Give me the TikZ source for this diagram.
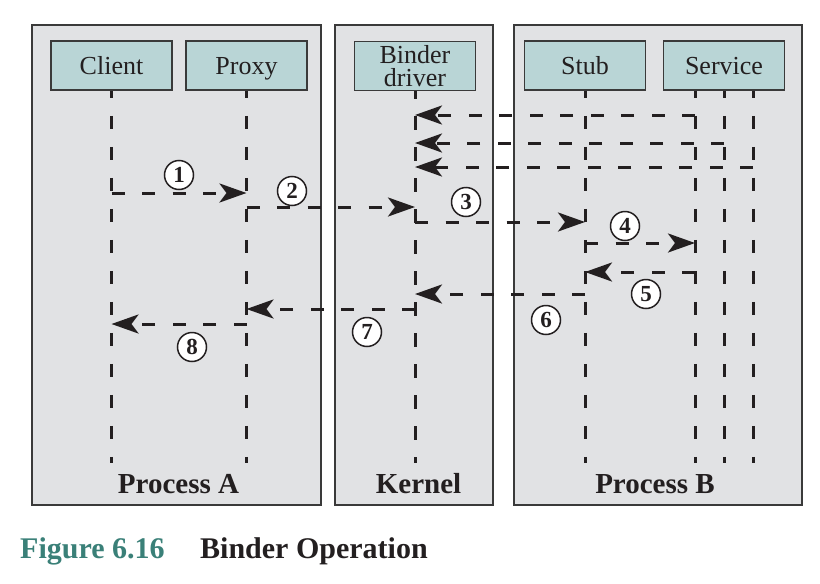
\documentclass[tikz,border=0pt]{standalone}
\usepackage{fontspec}
\setmainfont{Liberation Serif}
\usetikzlibrary{arrows.meta}
\definecolor{panelgray}{HTML}{E1E2E4}
\definecolor{boxteal}{HTML}{B9D5D6}
\definecolor{edgegray}{HTML}{3A3A3A}
\definecolor{inkblack}{HTML}{231F20}
\definecolor{figteal}{HTML}{3A8078}
\tikzset{
	panel/.style={draw=edgegray, fill=panelgray, line width=1.8pt, inner sep=0pt, minimum height=480pt},
	objbox/.style={draw=edgegray, fill=boxteal, line width=1.5pt, minimum width=121pt, minimum height=49pt, inner sep=0pt, font=\fontsize{26}{22}\selectfont, text=inkblack},
	onebox/.style={objbox, text height=18pt, text depth=0pt},
	lifeline/.style={draw=inkblack, line width=3pt, dash pattern=on 13.5pt off 17.5pt, dash phase=6pt},
	msg/.style={draw=inkblack, line width=3pt, dash pattern=on 13pt off 17.5pt, -{Stealth[length=27pt,width=19pt,inset=7pt]}},
	stepnum/.style={circle, draw=inkblack, fill=white, line width=1.5pt, minimum size=29pt, inner sep=0pt, font=\bfseries\fontsize{23}{23}\selectfont, text=inkblack},
	regionname/.style={anchor=base, inner sep=0pt, font=\bfseries\fontsize{29}{30}\selectfont, text=inkblack},
	caption/.style={anchor=base west, inner sep=0pt, font=\bfseries\fontsize{30}{30}\selectfont}
}
\begin{document}
\begin{tikzpicture}[x=1pt,y=-1pt]
	\fill[white] (0,0) rectangle (820,584);
	\useasboundingbox (0,0) rectangle (820,584);
	
	\node[panel, minimum width=289pt] (procA) at (176.5,265) {};
	\node[panel, minimum width=158pt] (kernel) at (414,265) {};
	\node[panel, minimum width=288pt] (procB) at (658,265) {};
	
	\node[onebox] (client) at (111.5,65.5) {Client};
	\node[onebox] (proxy) at (246.5,65.5) {Proxy};
	\node[objbox, align=center] (binder) at (415,66) {Binder\\[1pt]driver};
	\node[onebox] (stub) at (585,65.5) {Stub};
	\node[onebox] (service) at (724,65.5) {Service};
	
	\coordinate (bottom) at (0,463);
	\coordinate (svcA) at ([xshift=-29pt]service.south);
	\coordinate (svcC) at ([xshift=29pt]service.south);
	\foreach \obj in {client.south,proxy.south,binder.south,stub.south,svcA,service.south,svcC}
		\draw[lifeline] (\obj) -- (\obj |- bottom);
	
	\coordinate (ra) at (0,115);
	\coordinate (rb) at (0,143);
	\coordinate (rc) at (0,167);
	\draw[msg] (svcA |- ra) -- (binder |- ra);
	\draw[msg] (service |- rb) -- (binder |- rb);
	\draw[msg] (svcC |- rc) -- (binder |- rc);
	
	\coordinate (r1) at (0,193);
	\coordinate (r2) at (0,207);
	\coordinate (r3) at (0,222);
	\coordinate (r4) at (0,243);
	\coordinate (r5) at (0,272);
	\coordinate (r6) at (0,294);
	\coordinate (r7) at (0,309);
	\coordinate (r8) at (0,324);
	\draw[msg] (client |- r1) -- (proxy |- r1);
	\draw[msg] (proxy |- r2) -- (binder |- r2);
	\draw[msg] (binder |- r3) -- (stub |- r3);
	\draw[msg] (stub |- r4) -- (svcA |- r4);
	\draw[msg] (svcA |- r5) -- (stub |- r5);
	\draw[msg] (stub |- r6) -- (binder |- r6);
	\draw[msg] (binder |- r7) -- (proxy |- r7);
	\draw[msg] (proxy |- r8) -- (client |- r8);
	
	\node[stepnum] (s1) at (179,175) {1};
	\node[stepnum] (s2) at (292,191) {2};
	\node[stepnum] (s3) at (466,202) {3};
	\node[stepnum] (s4) at (625,226) {4};
	\node[stepnum] (s5) at (646,294) {5};
	\node[stepnum] (s6) at (546,320) {6};
	\node[stepnum] (s7) at (367,332) {7};
	\node[stepnum] (s8) at (192,347) {8};
	
	\node[regionname] (nameA) at (178.5,493) {Process A};
	\node[regionname] (nameK) at (418.5,493) {Kernel};
	\node[regionname] (nameB) at (655,493) {Process B};
	
	\node[caption, text=figteal] (fignum) at (20,558) {Figure 6.16};
	\node[caption, text=inkblack] (figtitle) at (200,558) {Binder Operation};
\end{tikzpicture}
\end{document}
